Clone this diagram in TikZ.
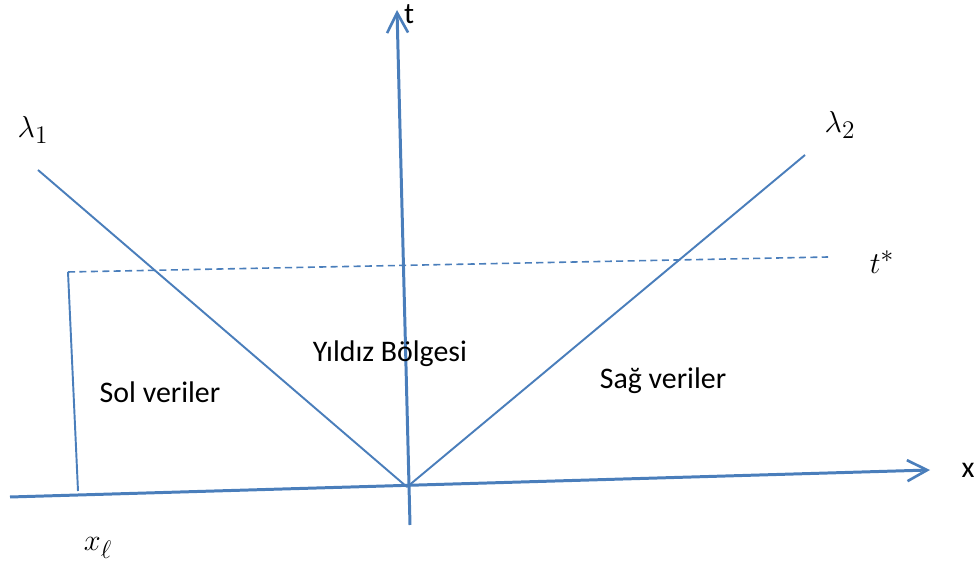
\documentclass[tikz,border=0pt]{standalone}
\usepackage{amsmath}
\usepackage{fontspec}
\setmainfont{Carlito}
\usepackage{tikz}
\usetikzlibrary{arrows.meta,positioning}
\definecolor{lineblue}{HTML}{4A7EBB}

\begin{document}
\begin{tikzpicture}[
  axis/.style={draw=lineblue,line width=1.7pt,-{Straight Barb[length=4mm,width=4.2mm,line width=1.5pt]}},
  char/.style={draw=lineblue,line width=1.1pt},
  dashline/.style={draw=lineblue,line width=0.9pt,dash pattern=on 4pt off 2.5pt},
  lbl/.style={font=\fontsize{17}{20}\selectfont},
  mlbl/.style={font=\fontsize{19}{22}\selectfont}]
  \useasboundingbox (0,0) rectangle (19.6,11.38);
  % Axis end points
  \coordinate (O) at (8.14,1.64);
  \coordinate (xs) at (0.2,1.44);
  \coordinate (xe) at (18.6,1.98);
  \coordinate (tb) at (8.2,0.88);
  \coordinate (te) at (7.94,11.18);
  % Characteristic ends
  \coordinate (l1) at (0.76,7.98);
  \coordinate (l2) at (16.1,8.28);
  % Time level t^*
  \coordinate (ds) at (1.36,5.94);
  \coordinate (de) at (16.56,6.24);
  \coordinate (xlb) at (1.56,1.56);
  % Axes
  \draw[axis] (xs) -- (xe);
  \draw[axis] (tb) -- (te);
  \node[lbl] (tlab) at (8.18,11.1) {t};
  \node[lbl] (xlab) at (19.36,1.98) {x};
  % Characteristics
  \draw[char] (l1) -- (O);
  \draw[char] (O) -- (l2);
  \node[mlbl] (lam1) at (0.66,8.78) {$\lambda_1$};
  \node[mlbl] (lam2) at (16.8,8.88) {$\lambda_2$};
  % Dashed level and left boundary
  \draw[dashline] (ds) -- (de);
  \draw[char] (ds) -- (xlb);
  \node[mlbl] (tstar) at (17.64,6.14) {$t^{*}$};
  \node[mlbl] (xell) at (1.96,0.42) {$x_{\ell}$};
  % Regions
  \node[lbl] (left) at (3.2,3.54) {Sol veriler};
  \node[lbl] (star) at (7.8,4.3) {Yıldız Bölgesi};
  \node[lbl] (right) at (13.26,3.76) {Sağ veriler};
\end{tikzpicture}
\end{document}
